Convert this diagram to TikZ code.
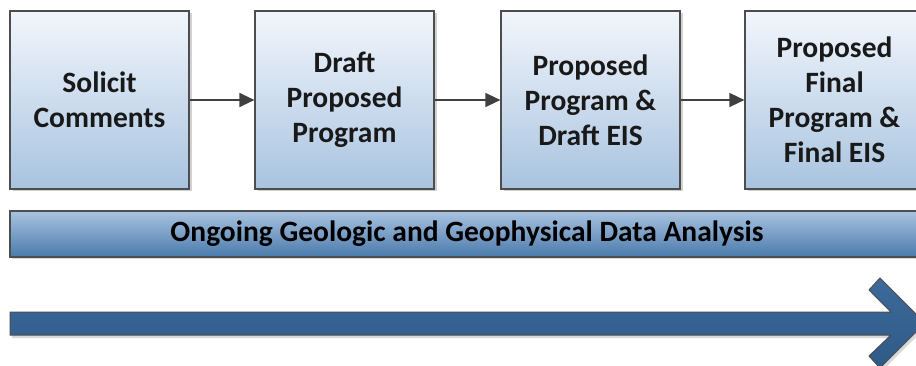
\documentclass[tikz,border=0pt]{standalone}
\usepackage{fontspec}
\setmainfont{Carlito}
\usetikzlibrary{shadows,arrows.meta}
\definecolor{boxtop}{HTML}{F2F6FC}
\definecolor{boxbot}{HTML}{A8C3DF}
\definecolor{bantop}{HTML}{A9C3E0}
\definecolor{banbot}{HTML}{4A7AAB}
\definecolor{arrtop}{HTML}{3C6A9A}
\definecolor{arrbot}{HTML}{2F5A88}
\definecolor{edge}{HTML}{4D4D4D}
\definecolor{conn}{HTML}{404040}
\tikzset{
  stepbox/.style={draw=edge, line width=1.2pt, top color=boxtop, bottom color=boxbot,
    minimum width=179pt, minimum height=178pt, inner sep=0pt, align=center,
    font=\fontsize{29.5}{35}\selectfont\bfseries, text=black!90,
    drop shadow={shadow xshift=2.5pt, shadow yshift=-2.5pt, fill=black!18, opacity=1}},
  banner/.style={draw=edge, line width=1.2pt, top color=bantop, bottom color=banbot,
    minimum width=914pt, minimum height=46pt, inner sep=0pt,
    font=\fontsize{29.5}{32}\selectfont\bfseries, text=black,
    drop shadow={shadow xshift=2pt, shadow yshift=-2.5pt, fill=black!15, opacity=1}},
  conn/.style={draw=conn, line width=1.5pt, -{Triangle[length=15pt,width=14pt]}},
}
\begin{document}
\begin{tikzpicture}[x=1pt,y=-1pt]
\useasboundingbox (0,0) rectangle (916,366);
\clip (0,0) rectangle (916,366);
\node[stepbox] (b1) at (99.5,100) {Solicit\\Comments};
\node[stepbox] (b2) at (344.5,100) {Draft\\Proposed\\Program};
\node[stepbox] (b3) at (590.5,100) {Proposed\\Program \&\\Draft EIS};
\node[stepbox] (b4) at (834.5,100) {Proposed\\Final\\Program \&\\Final EIS};
\draw[conn] (b1.east) -- (b2.west);
\draw[conn] (b2.east) -- (b3.west);
\draw[conn] (b3.east) -- (b4.west);
\node[banner] (ban) at (467,234) {Ongoing Geologic and Geophysical Data Analysis};
% big timeline arrow
\fill[black!15] (12,315) -- (893,315) -- (871,293) -- (882,281) -- (927,326) -- (882,371) -- (871,359) -- (893,338) -- (12,338) -- cycle;
\draw[draw=edge, line width=1pt, top color=arrtop, bottom color=arrbot]
  (10,312) -- (891,312) -- (869,290) -- (880,278) -- (925,323) -- (880,368) -- (869,356) -- (891,335) -- (10,335) -- cycle;
\end{tikzpicture}
\end{document}
